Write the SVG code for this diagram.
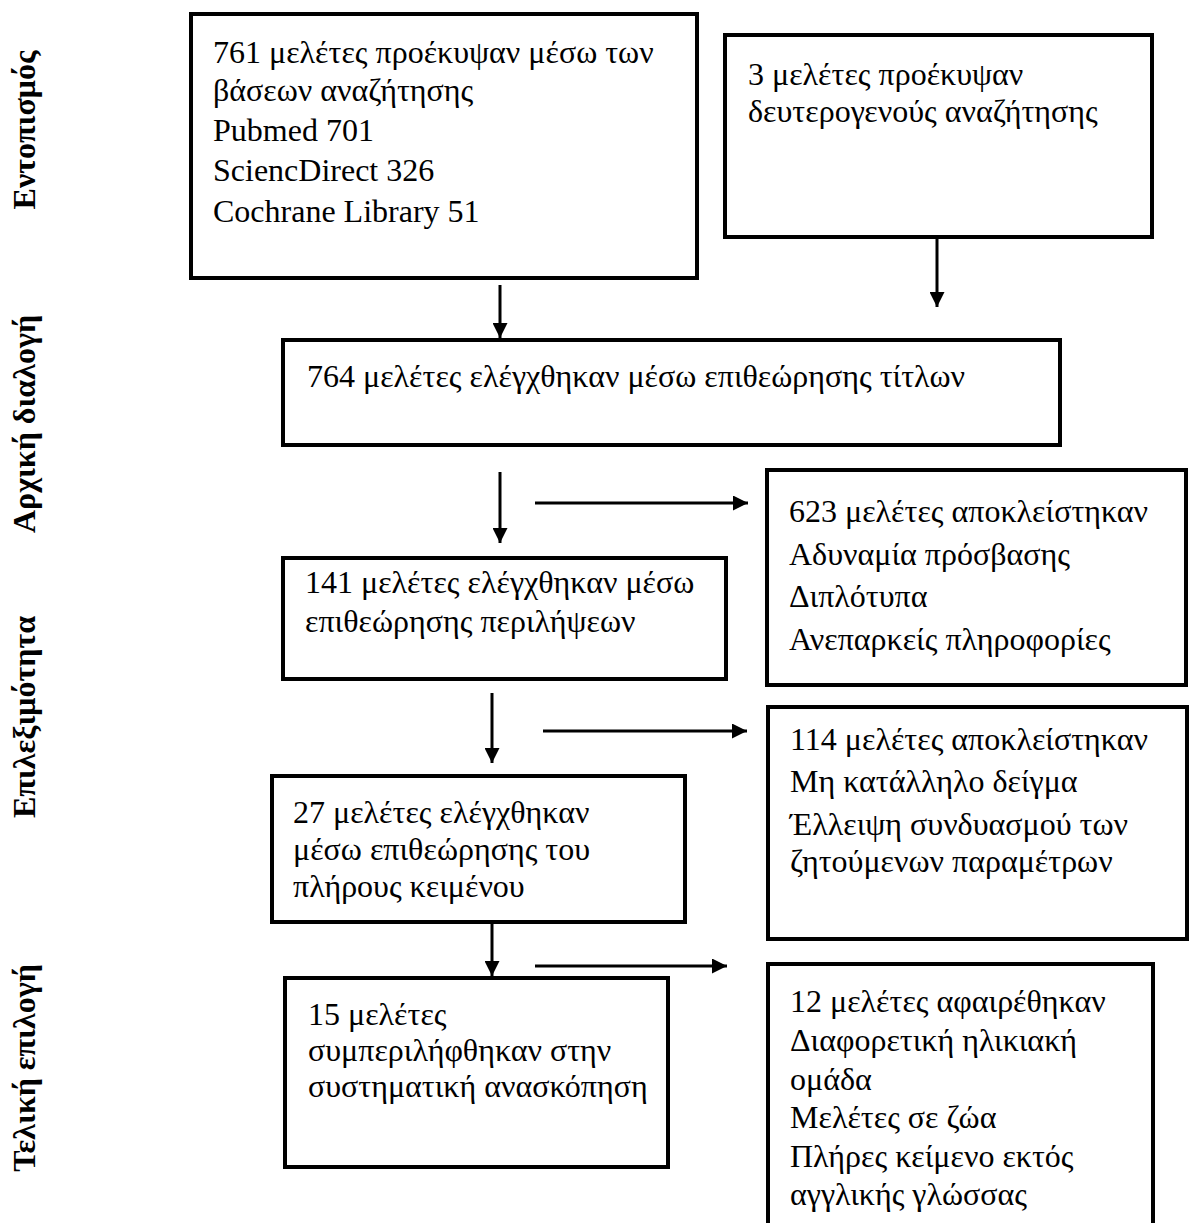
<svg xmlns="http://www.w3.org/2000/svg" width="1189" height="1223" viewBox="0 0 1189 1223">
<defs>
<style>
.box{fill:#fff;stroke:#000;stroke-width:4}
.t{font-family:"Liberation Serif","Times New Roman",serif;font-size:32px;fill:#000}
.lab{font-family:"Liberation Serif","Times New Roman",serif;font-size:32px;font-weight:bold;fill:#000}
.ln{stroke:#000;stroke-width:3;fill:none}
</style>
<marker id="ah" viewBox="0 0 10 10" refX="10" refY="5" markerWidth="5" markerHeight="5" markerUnits="strokeWidth" orient="auto">
<path d="M0,0 L10,5 L0,10 z" fill="#000"/>
</marker>
</defs>
<rect width="1189" height="1223" fill="#fff"/>
<g id="labels">
<text class="lab" text-anchor="middle" transform="translate(35,130) rotate(-90)">Εντοπισμός</text>
<text class="lab" text-anchor="middle" transform="translate(35,424) rotate(-90)">Αρχική διαλογή</text>
<text class="lab" text-anchor="middle" transform="translate(35,717) rotate(-90)">Επιλεξιμότητα</text>
<text class="lab" text-anchor="middle" transform="translate(35,1068) rotate(-90)">Τελική επιλογή</text>
</g>
<g id="connectors">
<line class="ln" x1="500" y1="285" x2="500" y2="338" marker-end="url(#ah)"/>
<line class="ln" x1="937" y1="239" x2="937" y2="307" marker-end="url(#ah)"/>
<line class="ln" x1="500" y1="472" x2="500" y2="543" marker-end="url(#ah)"/>
<line class="ln" x1="535" y1="503" x2="748" y2="503" marker-end="url(#ah)"/>
<line class="ln" x1="492" y1="693" x2="492" y2="763" marker-end="url(#ah)"/>
<line class="ln" x1="543" y1="731" x2="747" y2="731" marker-end="url(#ah)"/>
<line class="ln" x1="492" y1="922" x2="492" y2="976" marker-end="url(#ah)"/>
<line class="ln" x1="535" y1="966" x2="727" y2="966" marker-end="url(#ah)"/>
</g>
<g id="n1">
<rect class="box" x="191" y="14" width="506" height="264"/>
<text class="t" x="213" y="63">761 μελέτες προέκυψαν μέσω των</text>
<text class="t" x="213" y="101">βάσεων αναζήτησης</text>
<text class="t" x="213" y="141">Pubmed 701</text>
<text class="t" x="213" y="181">SciencDirect 326</text>
<text class="t" x="213" y="222">Cochrane Library 51</text>
</g>
<g id="n2">
<rect class="box" x="725" y="35" width="427" height="202"/>
<text class="t" x="748" y="85">3 μελέτες προέκυψαν</text>
<text class="t" x="748" y="122">δευτερογενούς αναζήτησης</text>
</g>
<g id="n3">
<rect class="box" x="283" y="340" width="777" height="105"/>
<text class="t" x="307" y="387">764 μελέτες ελέγχθηκαν μέσω επιθεώρησης τίτλων</text>
</g>
<g id="n4">
<rect class="box" x="767" y="470" width="419" height="215"/>
<text class="t" x="789" y="522">623 μελέτες αποκλείστηκαν</text>
<text class="t" x="789" y="565">Αδυναμία πρόσβασης</text>
<text class="t" x="789" y="607">Διπλότυπα</text>
<text class="t" x="789" y="650">Ανεπαρκείς πληροφορίες</text>
</g>
<g id="n5">
<rect class="box" x="283" y="558" width="443" height="121"/>
<text class="t" x="305" y="593">141 μελέτες ελέγχθηκαν μέσω</text>
<text class="t" x="305" y="632">επιθεώρησης περιλήψεων</text>
</g>
<g id="n6">
<rect class="box" x="768" y="707" width="419" height="232"/>
<text class="t" x="790" y="750">114 μελέτες αποκλείστηκαν</text>
<text class="t" x="790" y="792">Μη κατάλληλο δείγμα</text>
<text class="t" x="790" y="835">Έλλειψη συνδυασμού των</text>
<text class="t" x="790" y="872">ζητούμενων παραμέτρων</text>
</g>
<g id="n7">
<rect class="box" x="272" y="776" width="413" height="146"/>
<text class="t" x="293" y="823">27 μελέτες ελέγχθηκαν</text>
<text class="t" x="293" y="860">μέσω επιθεώρησης του</text>
<text class="t" x="293" y="897">πλήρους κειμένου</text>
</g>
<g id="n8">
<rect class="box" x="285" y="978" width="383" height="189"/>
<text class="t" x="308" y="1025">15 μελέτες</text>
<text class="t" x="308" y="1061">συμπεριλήφθηκαν στην</text>
<text class="t" x="308" y="1097">συστηματική ανασκόπηση</text>
</g>
<g id="n9">
<rect class="box" x="768" y="964" width="385" height="270"/>
<text class="t" x="790" y="1012">12 μελέτες αφαιρέθηκαν</text>
<text class="t" x="790" y="1051">Διαφορετική ηλικιακή</text>
<text class="t" x="790" y="1090">ομάδα</text>
<text class="t" x="790" y="1128">Μελέτες σε ζώα</text>
<text class="t" x="790" y="1167">Πλήρες κείμενο εκτός</text>
<text class="t" x="790" y="1205">αγγλικής γλώσσας</text>
</g>
</svg>
